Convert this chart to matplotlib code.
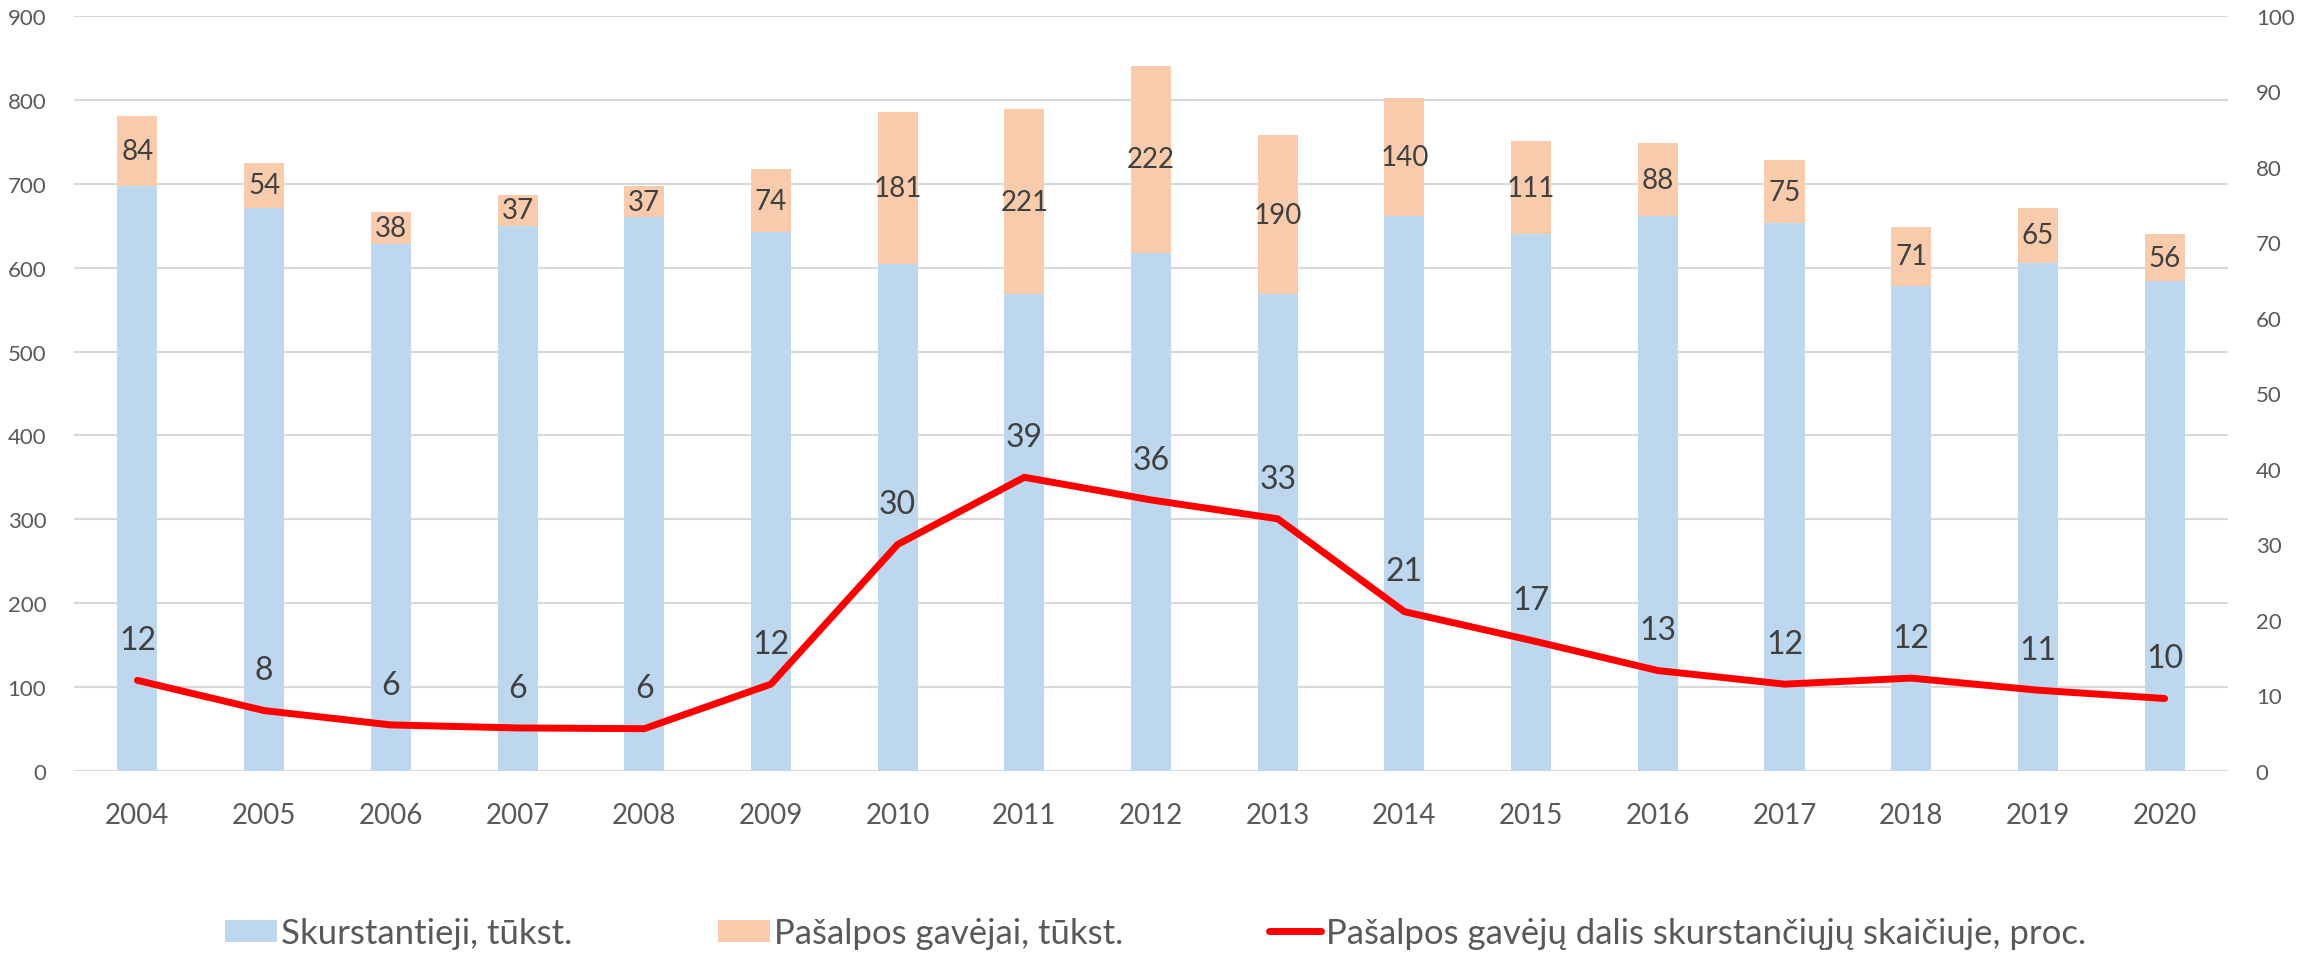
import matplotlib
matplotlib.use("Agg")
from matplotlib import pyplot as plt
from matplotlib.patches import Patch
from matplotlib.lines import Line2D
import numpy as np

plt.rcParams["font.family"] = ["Lato", "DejaVu Sans"]

# Data
YEARS: list[str] = [str(y) for y in range(2004, 2021)]
POOR_THOUSANDS: list[int] = [697, 671, 628, 650, 660, 643, 604, 568, 618, 568, 662, 640, 661, 653, 578, 606, 584]
BENEFIT_THOUSANDS: list[int] = [84, 54, 38, 37, 37, 74, 181, 221, 222, 190, 140, 111, 88, 75, 71, 65, 56]
SHARE_PERCENT: list[float] = [12.0, 8.0, 6.1, 5.7, 5.6, 11.5, 30.0, 38.9, 35.9, 33.4, 21.1, 17.3, 13.3, 11.5, 12.3, 10.7, 9.6]

LABELS: list[str] = [
    "Skurstantieji, tūkst.",
    "Pašalpos gavėjai, tūkst.",
    "Pašalpos gavėjų dalis skurstančiųjų skaičiuje, proc.",
]

BLUE = "#BDD7EE"
ORANGE = "#F8CBAD"
RED = "#FF0000"
GRID = "#D9D9D9"
TICK_COLOR = "#595959"
LABEL_COLOR = "#404040"


def main() -> None:
    fig = plt.figure(figsize=(23.15, 9.54), dpi=100)
    ax = fig.add_axes([0.032, 0.1908, 0.9304, 0.7914])
    ax2 = ax.twinx()

    x = np.arange(len(YEARS))
    width = 0.316

    ax.bar(x, POOR_THOUSANDS, width=width, color=BLUE, zorder=2)
    top = ax.bar(x, BENEFIT_THOUSANDS, width=width, bottom=POOR_THOUSANDS, color=ORANGE, zorder=2)
    ax.bar_label(top, labels=[str(v) for v in BENEFIT_THOUSANDS], label_type="center",
                 fontsize=20, color=LABEL_COLOR)

    ax.set_ylim(0, 900)
    ax.set_yticks(np.arange(0, 901, 100))
    ax.set_xlim(-0.5, len(YEARS) - 0.5)
    ax.set_xticks(x)
    ax.set_xticklabels(YEARS)
    ax.grid(True, axis="y", color=GRID, linewidth=1.5, zorder=0)
    ax.set_axisbelow(True)
    ax.tick_params(axis="y", length=0, labelsize=16, labelcolor=TICK_COLOR, pad=20)
    ax.tick_params(axis="x", length=0, labelsize=20, labelcolor=TICK_COLOR, pad=22)
    for s in ax.spines.values():
        s.set_visible(False)

    # Percentage line on the right axis
    ax2.plot(x, SHARE_PERCENT, color=RED, linewidth=5, solid_capstyle="round",
             solid_joinstyle="round", zorder=3)
    for xi, v in zip(x, SHARE_PERCENT):
        ax2.annotate(f"{v:.0f}", (xi, v), xytext=(0, 29), textcoords="offset points",
                     ha="center", va="center", fontsize=23, color=LABEL_COLOR)
    ax2.set_ylim(0, 100)
    ax2.set_yticks(np.arange(0, 101, 10))
    ax2.tick_params(axis="y", length=0, labelsize=16, labelcolor=TICK_COLOR, pad=20)
    for s in ax2.spines.values():
        s.set_visible(False)

    handles = [
        Patch(facecolor=BLUE, edgecolor="none"),
        Patch(facecolor=ORANGE, edgecolor="none"),
        Line2D([0], [0], color=RED, linewidth=5, solid_capstyle="round"),
    ]
    leg = fig.legend(handles, LABELS, loc="center", bbox_to_anchor=(0.499, 0.021), ncol=3,
                     frameon=False, fontsize=25, handlelength=1.5, handleheight=0.58,
                     handletextpad=0.12, columnspacing=4.2, borderaxespad=0)
    for t in leg.get_texts():
        t.set_color(TICK_COLOR)

    fig.savefig("out.png", dpi=100)
    plt.close(fig)


if __name__ == "__main__":
    main()
